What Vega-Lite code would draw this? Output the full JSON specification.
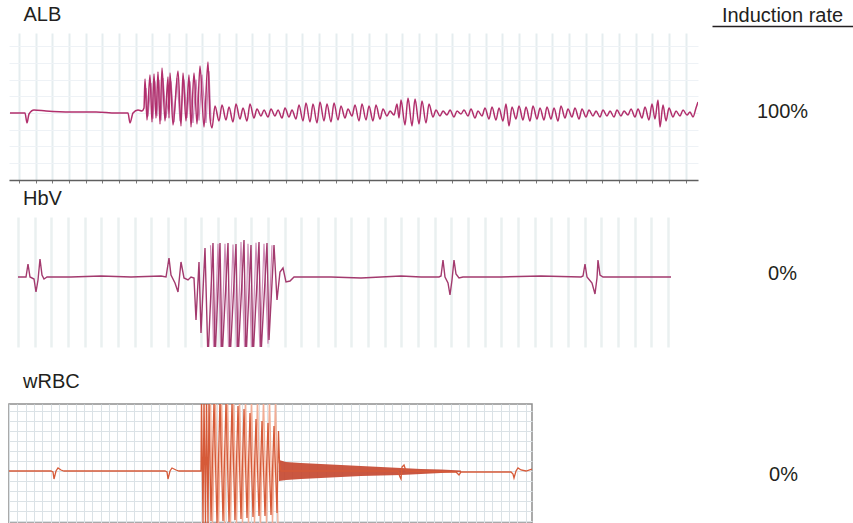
{
  "$schema": "https://vega.github.io/schema/vega-lite/v6.json",
  "background": "white",
  "padding": {"left": 8, "top": 5, "right": 0, "bottom": 0},
  "config": {"view": {"stroke": null}, "font": "Liberation Sans"},
  "datasets": {
    "alb": [
      {"t":-108,"v":0},{"t":72,"v":0},{"t":96,"v":-120},{"t":120,"v":-12},{"t":180,"v":36},{"t":324,"v":24},{"t":624,"v":12},{"t":924,"v":12},{"t":1164,"v":0},{"t":1308,"v":0},{"t":1332,"v":-120},{"t":1368,"v":0},{"t":1428,"v":36},{"t":1476,"v":24},
      {"t":1500,"v":60},{"t":1512,"v":408},{"t":1536,"v":-84},{"t":1572,"v":456},{"t":1596,"v":-108},{"t":1620,"v":468},{"t":1644,"v":-60},{"t":1668,"v":492},{"t":1692,"v":-132},{"t":1716,"v":540},{"t":1752,"v":-96},{"t":1788,"v":432},{"t":1800,"v":-60},{"t":1812,"v":480},{"t":1848,"v":-144},{"t":1908,"v":504},{"t":1944,"v":-156},{"t":1968,"v":480},{"t":2004,"v":-96},{"t":2040,"v":456},{"t":2064,"v":-168},{"t":2100,"v":480},{"t":2136,"v":-132},{"t":2172,"v":564},{"t":2220,"v":-168},{"t":2268,"v":612},{"t":2292,"v":-60},{"t":2316,"v":-180},
      {"t":2352,"v":84},{"t":2400,"v":-96},{"t":2436,"v":96},{"t":2484,"v":-84},{"t":2520,"v":72},{"t":2568,"v":-108},{"t":2604,"v":108},{"t":2652,"v":-72},{"t":2688,"v":60},{"t":2736,"v":-96},{"t":2772,"v":108},{"t":2820,"v":-60},{"t":2856,"v":48},{"t":2904,"v":-36},{"t":2940,"v":36},{"t":2988,"v":-48},{"t":3024,"v":48},{"t":3072,"v":-36},{"t":3108,"v":36},{"t":3156,"v":-60},{"t":3192,"v":60},{"t":3240,"v":-48},{"t":3276,"v":36},{"t":3324,"v":-72},{"t":3360,"v":96},{"t":3408,"v":-96},{"t":3444,"v":120},{"t":3492,"v":-108},{"t":3528,"v":108},{"t":3576,"v":-120},{"t":3612,"v":132},{"t":3660,"v":-96},{"t":3696,"v":108},{"t":3744,"v":-108},{"t":3780,"v":120},{"t":3828,"v":-84},{"t":3864,"v":84},{"t":3912,"v":-60},{"t":3948,"v":48},{"t":3996,"v":-36},{"t":4032,"v":96},{"t":4080,"v":-96},{"t":4116,"v":108},{"t":4164,"v":-84},{"t":4200,"v":84},{"t":4248,"v":-96},{"t":4284,"v":96},{"t":4332,"v":-72},{"t":4368,"v":48},{"t":4416,"v":-36},{"t":4452,"v":24},{"t":4500,"v":-24},{"t":4536,"v":108},{"t":4560,"v":-60},{"t":4584,"v":156},{"t":4632,"v":-144},{"t":4668,"v":180},{"t":4716,"v":-156},{"t":4752,"v":168},{"t":4800,"v":-132},{"t":4836,"v":144},{"t":4884,"v":-120},{"t":4920,"v":108},{"t":4968,"v":-48},{"t":5004,"v":36},{"t":5052,"v":-36},{"t":5088,"v":24},{"t":5136,"v":-24},{"t":5172,"v":36},{"t":5220,"v":-48},{"t":5256,"v":24},{"t":5304,"v":-12},{"t":5340,"v":36},{"t":5388,"v":-36},{"t":5424,"v":48},{"t":5472,"v":-60},{"t":5508,"v":24},{"t":5556,"v":-36},{"t":5592,"v":60},{"t":5640,"v":-72},{"t":5676,"v":72},{"t":5724,"v":-84},{"t":5760,"v":60},{"t":5808,"v":-96},{"t":5844,"v":108},{"t":5880,"v":-156},{"t":5916,"v":72},{"t":5964,"v":-72},{"t":6000,"v":84},{"t":6048,"v":-84},{"t":6084,"v":72},{"t":6132,"v":-96},{"t":6168,"v":84},{"t":6216,"v":-72},{"t":6252,"v":60},{"t":6300,"v":-84},{"t":6336,"v":72},{"t":6384,"v":-72},{"t":6420,"v":60},{"t":6468,"v":-96},{"t":6504,"v":84},{"t":6552,"v":-60},{"t":6588,"v":48},{"t":6636,"v":-48},{"t":6672,"v":60},{"t":6720,"v":-72},{"t":6756,"v":48},{"t":6804,"v":-48},{"t":6840,"v":36},{"t":6888,"v":-36},{"t":6924,"v":24},{"t":6972,"v":-48},{"t":7008,"v":36},{"t":7056,"v":-36},{"t":7092,"v":24},{"t":7140,"v":-48},{"t":7176,"v":36},{"t":7224,"v":-36},{"t":7260,"v":24},{"t":7308,"v":-24},{"t":7344,"v":48},{"t":7392,"v":-48},{"t":7428,"v":48},{"t":7476,"v":-60},{"t":7512,"v":72},{"t":7560,"v":-84},{"t":7596,"v":108},{"t":7632,"v":-72},{"t":7668,"v":156},{"t":7692,"v":-168},{"t":7728,"v":96},{"t":7764,"v":-96},{"t":7800,"v":60},{"t":7848,"v":-48},{"t":7884,"v":24},{"t":7932,"v":-36},{"t":7968,"v":36},{"t":8016,"v":-24},{"t":8052,"v":12},{"t":8088,"v":-48},{"t":8124,"v":60},{"t":8148,"v":132}
    ],
    "alb_light": [
      {"t":1524,"v":300},{"t":1548,"v":-40},{"t":1584,"v":360},{"t":1608,"v":-70},{"t":1632,"v":380},{"t":1656,"v":-40},{"t":1680,"v":400},{"t":1704,"v":-90},{"t":1728,"v":420},{"t":1764,"v":-60},{"t":1824,"v":380},{"t":1860,"v":-110},{"t":1896,"v":420},{"t":1932,"v":-100},{"t":1980,"v":400},{"t":2016,"v":-60},{"t":2052,"v":380},{"t":2088,"v":-120},{"t":2124,"v":400},{"t":2160,"v":-90},{"t":2196,"v":460},{"t":2244,"v":-120},{"t":2280,"v":500},{"t":2304,"v":-100}
    ],
    "hbv": [
      {"t":0,"v":0},{"t":96,"v":0},{"t":120,"v":156},{"t":144,"v":0},{"t":192,"v":-24},{"t":216,"v":-180},{"t":240,"v":-36},{"t":264,"v":216},{"t":288,"v":24},{"t":312,"v":-24},{"t":348,"v":0},{"t":636,"v":0},{"t":996,"v":12},{"t":1356,"v":0},{"t":1716,"v":12},{"t":1776,"v":0},{"t":1812,"v":228},{"t":1836,"v":24},{"t":1884,"v":-72},{"t":1920,"v":-180},{"t":1956,"v":180},{"t":1992,"v":-12},{"t":2040,"v":-36},{"t":2076,"v":0},{"t":2112,"v":-12},
      {"t":2136,"v":-516},{"t":2172,"v":180},{"t":2196,"v":-672},{"t":2244,"v":348},{"t":2280,"v":-996},{"t":2340,"v":408},{"t":2364,"v":-996},{"t":2424,"v":408},{"t":2448,"v":-996},{"t":2520,"v":408},{"t":2544,"v":-996},{"t":2616,"v":396},{"t":2640,"v":-996},{"t":2712,"v":444},{"t":2736,"v":-996},{"t":2796,"v":384},{"t":2820,"v":-996},{"t":2892,"v":420},{"t":2916,"v":-936},{"t":2988,"v":408},{"t":3012,"v":-756},{"t":3072,"v":384},{"t":3108,"v":-276},{"t":3144,"v":60},{"t":3180,"v":108},{"t":3216,"v":-60},{"t":3264,"v":-48},{"t":3312,"v":0},
      {"t":3756,"v":0},{"t":4116,"v":-12},{"t":4596,"v":12},{"t":4836,"v":0},{"t":5052,"v":0},{"t":5076,"v":12},{"t":5100,"v":204},{"t":5124,"v":0},{"t":5160,"v":-72},{"t":5184,"v":-216},{"t":5208,"v":-36},{"t":5232,"v":204},{"t":5256,"v":36},{"t":5292,"v":-12},{"t":5340,"v":0},{"t":5796,"v":0},{"t":6276,"v":12},{"t":6756,"v":0},{"t":6780,"v":12},{"t":6804,"v":156},{"t":6828,"v":0},{"t":6888,"v":-72},{"t":6924,"v":-204},{"t":6948,"v":-12},{"t":6960,"v":204},{"t":6984,"v":24},{"t":7020,"v":0},{"t":7476,"v":0},{"t":7836,"v":0}
    ],
    "hbv_light": [
      {"t":2310,"v":380},{"t":2352,"v":-996},{"t":2400,"v":400},{"t":2436,"v":-996},{"t":2484,"v":400},{"t":2532,"v":-996},{"t":2580,"v":390},{"t":2628,"v":-996},{"t":2676,"v":420},{"t":2724,"v":-996},{"t":2760,"v":400},{"t":2808,"v":-996},{"t":2856,"v":410},{"t":2904,"v":-900},{"t":2952,"v":400},{"t":3000,"v":-800},{"t":3048,"v":380}
    ],
    "wrbc": [
      {"t":0,"v":0},{"t":504,"v":0},{"t":528,"v":-10},{"t":540,"v":-80},{"t":564,"v":0},{"t":588,"v":30},{"t":624,"v":10},{"t":660,"v":0},{"t":1872,"v":0},{"t":1896,"v":-10},{"t":1908,"v":-80},{"t":1932,"v":0},{"t":1956,"v":30},{"t":2004,"v":10},{"t":2040,"v":0},{"t":2292,"v":0},{"t":2304,"v":0},
      {"t":2310,"v":750},{"t":2328,"v":-550},{"t":2340,"v":750},{"t":2358,"v":-550},{"t":2370,"v":750},{"t":2388,"v":-550},{"t":2400,"v":750},{"t":2424,"v":-500},{"t":2460,"v":700},{"t":2496,"v":-520},{"t":2532,"v":720},{"t":2568,"v":-500},{"t":2604,"v":700},{"t":2640,"v":-510},{"t":2676,"v":680},{"t":2712,"v":-490},{"t":2748,"v":650},{"t":2784,"v":-480},{"t":2820,"v":620},{"t":2856,"v":-470},{"t":2892,"v":580},{"t":2928,"v":-460},{"t":2964,"v":520},{"t":3000,"v":-450},{"t":3036,"v":500},{"t":3072,"v":-450},{"t":3108,"v":480},{"t":3144,"v":-440},{"t":3180,"v":450},{"t":3216,"v":-420},{"t":3234,"v":400},{"t":3246,"v":80},{"t":3264,"v":0},
      {"t":4668,"v":0},{"t":4692,"v":-60},{"t":4704,"v":-80},{"t":4716,"v":40},{"t":4740,"v":60},{"t":4764,"v":0},{"t":5364,"v":-10},{"t":5400,"v":-40},{"t":5424,"v":-10},{"t":6024,"v":-10},{"t":6048,"v":-30},{"t":6060,"v":-70},{"t":6084,"v":0},{"t":6108,"v":30},{"t":6144,"v":10},{"t":6204,"v":0},{"t":6276,"v":20}
    ],
    "wrbc_light": [
      {"t":2418,"v":750},{"t":2442,"v":-550},{"t":2478,"v":750},{"t":2514,"v":-550},{"t":2550,"v":750},{"t":2586,"v":-550},{"t":2622,"v":750},{"t":2658,"v":-550},{"t":2694,"v":750},{"t":2730,"v":-550},{"t":2766,"v":750},{"t":2802,"v":-550},{"t":2838,"v":750},{"t":2874,"v":-550},{"t":2910,"v":750},{"t":2946,"v":-550},{"t":2982,"v":750},{"t":3018,"v":-550},{"t":3054,"v":750},{"t":3090,"v":-550},{"t":3126,"v":750},{"t":3162,"v":-550},{"t":3198,"v":750},{"t":3228,"v":-550}
    ],
    "wrbc_band": [
      {"t":3240,"v":110,"v2":-100},{"t":3324,"v":90,"v2":-90},{"t":3504,"v":80,"v2":-80},{"t":3744,"v":70,"v2":-70},{"t":3984,"v":60,"v2":-60},{"t":4224,"v":50,"v2":-50},{"t":4464,"v":40,"v2":-45},{"t":4704,"v":30,"v2":-40},{"t":4944,"v":20,"v2":-30},{"t":5184,"v":15,"v2":-20},{"t":5424,"v":5,"v2":-10}
    ]
  },
  "vconcat": [
    {
      "hconcat": [
        {
          "title": {"text": "ALB", "anchor": "start", "fontSize": 20, "font": "Liberation Sans", "fontWeight": "normal", "color": "#231f20", "baseline": "bottom", "offset": -12.2, "dx": 14.5},
          "width": 689, "height": 147,
          "encoding": {
            "x": {"field": "t", "type": "quantitative", "scale": {"domain": [-120, 8148], "nice": false, "zero": false},
                  "axis": {"grid": true, "gridColor": "#e5edef", "gridWidth": 2, "domain": true, "domainColor": "#5f5f5f", "domainWidth": 1.5, "ticks": true, "tickColor": "#7a7a7a", "tickSize": 3, "labels": false, "title": null, "tickCount": 40}},
            "y": {"field": "v", "type": "quantitative", "scale": {"domain": [-804, 960], "nice": false, "zero": false},
                  "axis": {"grid": true, "gridColor": "#eef2f6", "gridWidth": 1, "domain": false, "ticks": false, "labels": false, "title": null, "tickCount": 9}}
          },
          "layer": [
            {"data": {"name": "alb_light"}, "mark": {"type": "line", "color": "#c888b6", "strokeWidth": 1.2, "clip": true}},
            {"data": {"name": "alb"}, "mark": {"type": "line", "color": "#b12f6c", "strokeWidth": 1.5, "clip": true, "interpolate": "monotone"}}
          ]
        },
        {
          "title": {"text": "Induction rate", "anchor": "middle", "fontSize": 20, "font": "Liberation Sans", "fontWeight": "normal", "color": "#231f20", "baseline": "bottom", "offset": -19.8},
          "width": 141, "height": 147,
          "data": {"values": [{"panel": "ALB", "rate": "100%"}]},
          "mark": {"type": "text", "fontSize": 20, "font": "Liberation Sans", "color": "#231f20", "dy": 5.8},
          "encoding": {
            "x": {"field": "panel", "type": "nominal", "axis": {"orient": "top", "offset": 7, "domain": true, "domainColor": "#231f20", "domainWidth": 1.3, "ticks": false, "labels": false, "grid": false, "title": null}},
            "text": {"field": "rate"}
          }
        }
      ],
      "spacing": 14
    },
    {
      "hconcat": [
        {
          "title": {"text": "HbV", "anchor": "start", "fontSize": 20, "font": "Liberation Sans", "fontWeight": "normal", "color": "#231f20", "baseline": "bottom", "offset": -12, "dx": 14},
          "width": 662, "height": 130,
          "encoding": {
            "x": {"field": "t", "type": "quantitative", "scale": {"domain": [-108, 7836], "nice": false, "zero": false},
                  "axis": {"grid": true, "gridColor": "#eaf0f0", "gridWidth": 2.5, "domain": false, "ticks": false, "labels": false, "title": null, "tickCount": 40}},
            "y": {"field": "v", "type": "quantitative", "scale": {"domain": [-840, 720], "nice": false, "zero": false}, "axis": null}
          },
          "layer": [
            {"data": {"name": "hbv_light"}, "mark": {"type": "line", "color": "#cf8fb8", "strokeWidth": 1.2, "clip": true}},
            {"data": {"name": "hbv"}, "mark": {"type": "line", "color": "#a33a6e", "strokeWidth": 1.4, "clip": true}}
          ]
        },
        {
          "title": {"text": " ", "anchor": "middle", "fontSize": 20, "font": "Liberation Sans", "fontWeight": "normal", "baseline": "bottom", "offset": -12},
          "width": 141, "height": 148.5,
          "data": {"values": [{"panel": "HbV", "rate": "0%"}]},
          "mark": {"type": "text", "fontSize": 20, "font": "Liberation Sans", "color": "#231f20", "dy": -17},
          "encoding": {
            "x": {"field": "panel", "type": "nominal", "axis": null},
            "text": {"field": "rate"}
          }
        }
      ],
      "spacing": 41
    },
    {
      "hconcat": [
        {
          "title": {"text": "wRBC", "anchor": "start", "fontSize": 20, "font": "Liberation Sans", "fontWeight": "normal", "color": "#231f20", "baseline": "bottom", "offset": -7.8, "dx": 14},
          "width": 523, "height": 119,
          "view": {"stroke": "#8f8f8f", "strokeWidth": 1.5},
          "encoding": {
            "x": {"field": "t", "type": "quantitative", "scale": {"domain": [0, 6276], "nice": false, "zero": false},
                  "axis": {"grid": true, "gridColor": "#dbe2e6", "gridWidth": 1, "domain": false, "ticks": false, "labels": false, "title": null, "tickCount": 60}},
            "y": {"field": "v", "type": "quantitative", "scale": {"domain": [-520, 670], "nice": false, "zero": false},
                  "axis": {"grid": true, "gridColor": "#dbe2e6", "gridWidth": 1, "domain": false, "ticks": false, "labels": false, "title": null, "tickCount": 12}}
          },
          "layer": [
            {"data": {"name": "wrbc_light"}, "mark": {"type": "line", "color": "#f2ad95", "strokeWidth": 1.3, "clip": true}},
            {"data": {"name": "wrbc_band"}, "mark": {"type": "area", "color": "#c4452c", "opacity": 0.9, "clip": true}, "encoding": {"y2": {"field": "v2"}}},
            {"data": {"name": "wrbc"}, "mark": {"type": "line", "color": "#d65a38", "strokeWidth": 1.3, "clip": true}}
          ]
        },
        {
          "title": {"text": " ", "anchor": "middle", "fontSize": 20, "font": "Liberation Sans", "fontWeight": "normal", "baseline": "bottom", "offset": -7.8},
          "width": 141, "height": 119,
          "data": {"values": [{"panel": "wRBC", "rate": "0%"}]},
          "mark": {"type": "text", "fontSize": 20, "font": "Liberation Sans", "color": "#231f20", "dy": 11.5},
          "encoding": {
            "x": {"field": "panel", "type": "nominal", "axis": null},
            "text": {"field": "rate"}
          }
        }
      ],
      "spacing": 180
    }
  ],
  "spacing": 5
}
